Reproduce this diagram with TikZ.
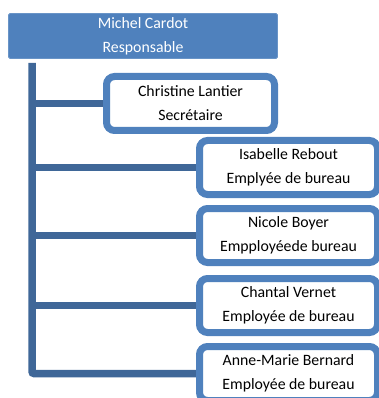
\documentclass[tikz,border=0pt]{standalone}
\usepackage{fontspec}
\setmainfont{Carlito}
\usetikzlibrary{backgrounds}
\definecolor{accent}{HTML}{4F81BD}
\definecolor{linec}{HTML}{3F6798}
\tikzset{
  headbox/.style={draw=accent!85!white, line width=0.8pt, fill=accent, rounded corners=1.5pt,
    minimum width=269pt, minimum height=45pt, inner sep=0pt, align=center, text=white,
    font=\fontsize{15.8}{24}\selectfont},
  empbox/.style={draw=accent, line width=7pt, fill=white, rounded corners=8pt,
    minimum height=54pt, inner sep=0pt, align=center, text=black,
    font=\fontsize{15.8}{24}\selectfont},
  conn/.style={draw=linec, line width=7.5pt}
}
\begin{document}
\begin{tikzpicture}[x=1pt,y=-1pt]
\useasboundingbox (0,0) rectangle (379,398);
\clip (0,0) rectangle (379,398);
\node[headbox] (head) at (143,36) {Michel Cardot\\Responsable};
\coordinate (t) at (32,63);
\node[empbox, minimum width=168pt] (chris) at (190.5,103.5) {Christine Lantier\\Secrétaire};
\node[empbox, minimum width=178pt] (isab) at (288.5,167.5) {Isabelle Rebout\\Emplyée de bureau};
\node[empbox, minimum width=178pt] (nico) at (288.5,235.5) {Nicole Boyer\\Empployéede bureau};
\node[empbox, minimum width=178pt] (chan) at (288.5,305.5) {Chantal Vernet\\Employée de bureau};
\node[empbox, minimum width=178pt] (anne) at (288.5,373.5) {Anne-Marie Bernard\\Employée de bureau};
\begin{scope}[on background layer]
\draw[conn, rounded corners=2pt] (t) |- (anne.west);
\draw[conn] (t |- chris.west) -- (chris.west);
\draw[conn] (t |- isab.west) -- (isab.west);
\draw[conn] (t |- nico.west) -- (nico.west);
\draw[conn] (t |- chan.west) -- (chan.west);
\end{scope}
\end{tikzpicture}
\end{document}
